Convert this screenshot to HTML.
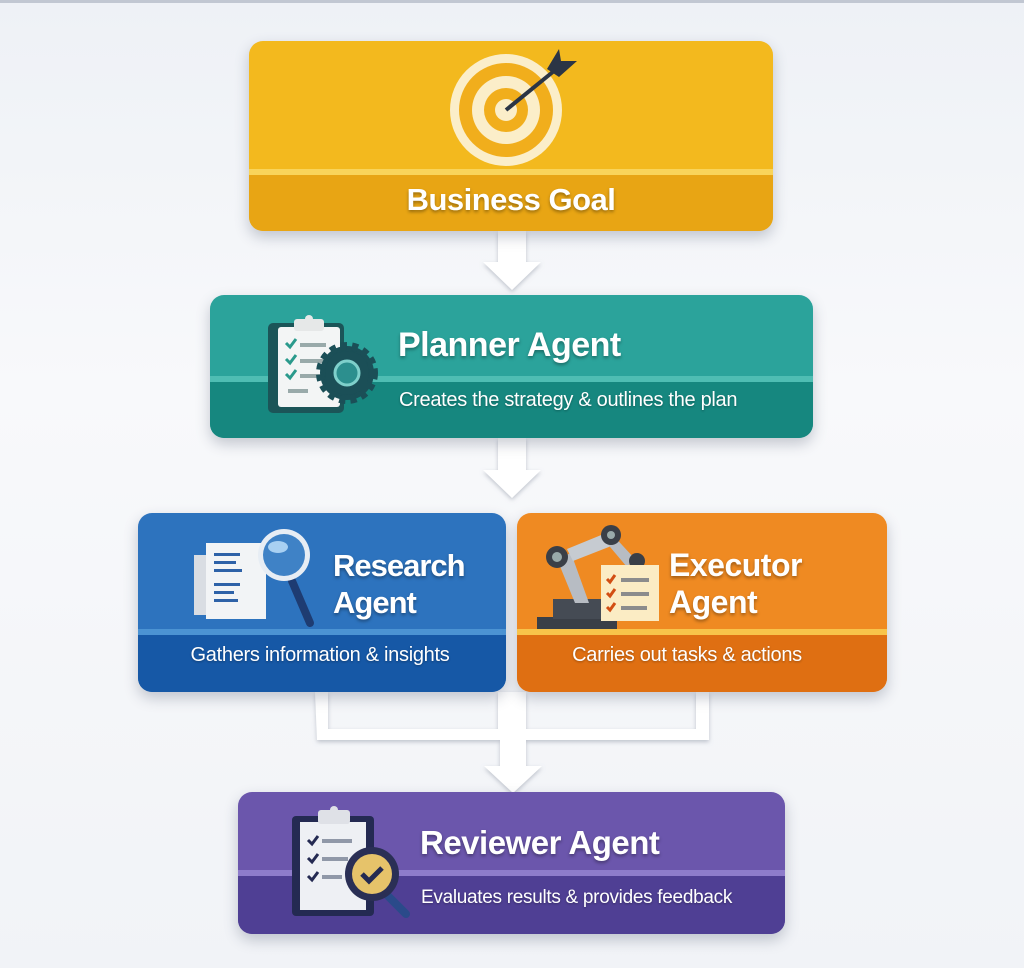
<!DOCTYPE html>
<html><head><meta charset="utf-8"><style>
*{margin:0;padding:0;box-sizing:border-box}
body{width:1024px;height:968px;background:linear-gradient(#eef1f6,#f8f9fb 40%,#f1f3f7);position:relative;overflow:hidden;font-family:"Liberation Sans",sans-serif}
.box{position:absolute;border-radius:14px;overflow:hidden;box-shadow:0 6px 14px rgba(40,50,80,.25)}
.low{position:absolute;left:0;right:0;bottom:0}
.stripe{position:absolute;left:0;right:0;height:6px}
.t{position:absolute;color:#fff;font-weight:bold;text-shadow:0 2px 3px rgba(0,0,0,.35);white-space:nowrap;letter-spacing:-0.5px}
.s{position:absolute;color:#fff;font-size:20px;white-space:nowrap;text-shadow:0 1px 2px rgba(0,0,0,.3);letter-spacing:-0.3px}
.ar{position:absolute}
</style></head><body>
<div style="position:absolute;left:0;right:0;top:0;height:3px;background:#6c7890;opacity:.35"></div>

<svg class="ar" style="left:0;top:0" width="1024" height="968">
<defs><filter id="f"><feDropShadow dx="0" dy="2" stdDeviation="2" flood-color="#8890a0" flood-opacity=".5"/></filter></defs>
<g fill="#fff" filter="url(#f)">
<polygon points="498,231 526,231 526,262 541,262 512,290 483,262 498,262"/>
<polygon points="498,438 526,438 526,470 541,470 512,498 483,470 498,470"/>
<path d="M315,692 h13 v37 h170 v-37 h28 v37 h170 v-37 h13 v48 h-183 v26 h16 l-29,27 l-29,-27 h16 v-26 h-183z"/>
</g></svg>

<div class="box" style="left:249px;top:41px;width:524px;height:190px;background:#f3b91e">
 <div class="low" style="top:131px;background:#e8a514"></div>
 <div class="stripe" style="top:128px;background:#f9d45a"></div>
 <svg style="position:absolute;left:200px;top:8px" width="130" height="120">
  <circle cx="57" cy="61" r="56" fill="#fbeec9"/><circle cx="57" cy="61" r="47" fill="#f1ae1c"/>
  <circle cx="57" cy="61" r="34" fill="#fbeec9"/><circle cx="57" cy="61" r="22" fill="#f1ae1c"/>
  <circle cx="57" cy="61" r="11" fill="#fbeec9"/>
  <line x1="57" y1="61" x2="105" y2="22" stroke="#2b3545" stroke-width="4"/>
  <polygon points="98,20 110,0 112,12 128,12 110,28" fill="#2b3545"/>
 </svg>
 <div class="t" style="left:0;right:0;text-align:center;top:141px;font-size:31px">Business Goal</div>
</div>

<div class="box" style="left:210px;top:295px;width:603px;height:143px;background:#2ba39b">
 <div class="low" style="top:86px;background:#16877f"></div>
 <div class="stripe" style="top:81px;background:#4fbdb3"></div>
 <svg style="position:absolute;left:56px;top:18px" width="115" height="105">
  <rect x="2" y="10" width="76" height="90" rx="5" fill="#1b5558"/>
  <rect x="12" y="14" width="62" height="80" rx="3" fill="#f3f5f5"/>
  <rect x="28" y="6" width="30" height="12" rx="3" fill="#e6e8e8"/><circle cx="43" cy="6" r="4" fill="#e6e8e8"/>
  <g stroke="#2a9a8c" stroke-width="3" fill="none"><path d="M20,30 l4,4 l6,-8"/><path d="M20,46 l4,4 l6,-8"/><path d="M20,61 l4,4 l6,-8"/></g>
  <g fill="#9aa"><rect x="34" y="30" width="26" height="4"/><rect x="34" y="46" width="24" height="4"/><rect x="34" y="61" width="22" height="4"/><rect x="22" y="76" width="20" height="4"/></g>
  <circle cx="81" cy="60" r="27" fill="#1b4f57" stroke="#1b4f57" stroke-width="8" stroke-dasharray="6 5"/>
  <circle cx="81" cy="60" r="22" fill="#1b4f57"/><circle cx="81" cy="60" r="12" fill="#2c8f8e" stroke="#7fd0cb" stroke-width="3"/>
 </svg>
 <div class="t" style="left:188px;top:31px;font-size:34px">Planner Agent</div>
 <div class="s" style="left:189px;top:94px;font-size:20px">Creates the strategy &amp; outlines the plan</div>
</div>

<div class="box" style="left:138px;top:513px;width:368px;height:179px;background:#2d73be">
 <div class="low" style="top:122px;background:#1658a6"></div>
 <div class="stripe" style="top:116px;background:#4b93d3"></div>
 <svg style="position:absolute;left:54px;top:10px" width="130" height="110">
  <rect x="2" y="32" width="52" height="60" fill="#d9dde3"/>
  <rect x="14" y="20" width="60" height="76" fill="#f2f4f6"/>
  <g fill="#2e62a8"><rect x="22" y="30" width="26" height="3"/><rect x="22" y="38" width="22" height="3"/><rect x="22" y="46" width="28" height="3"/><rect x="22" y="60" width="26" height="3"/><rect x="22" y="68" width="20" height="3"/><rect x="22" y="76" width="24" height="3"/></g>
  <line x1="100" y1="58" x2="118" y2="100" stroke="#1e3c72" stroke-width="8" stroke-linecap="round"/>
  <circle cx="92" cy="32" r="26" fill="#e7edf4"/><circle cx="92" cy="32" r="21" fill="#3f82c6"/>
  <ellipse cx="86" cy="24" rx="10" ry="6" fill="#a8d0f2"/>
 </svg>
 <div class="t" style="left:195px;top:34px;font-size:31px;line-height:37px;letter-spacing:-1px">Research<br>Agent</div>
 <div class="s" style="left:0;right:0;text-align:center;top:131px;padding-right:4px">Gathers information &amp; insights</div>
</div>

<div class="box" style="left:517px;top:513px;width:370px;height:179px;background:#ef8a22">
 <div class="low" style="top:122px;background:#df6f12"></div>
 <div class="stripe" style="top:116px;background:#f8c44a"></div>
 <svg style="position:absolute;left:18px;top:10px" width="140" height="108">
  <rect x="2" y="94" width="80" height="12" fill="#3a3f47"/><rect x="18" y="76" width="52" height="20" fill="#454b54"/>
  <path d="M22,36 L40,80 L54,80 L36,30z" fill="#b7bcc3"/>
  <path d="M32,26 L76,8 L84,20 L38,38z" fill="#c6cbd1"/>
  <path d="M76,10 L100,36 L92,44 L70,18z" fill="#b7bcc3"/>
  <circle cx="22" cy="34" r="11" fill="#3a3f47"/><circle cx="22" cy="34" r="5" fill="#9aa"/>
  <circle cx="76" cy="12" r="10" fill="#3a3f47"/><circle cx="76" cy="12" r="4" fill="#9aa"/>
  <circle cx="102" cy="38" r="8" fill="#3a3f47"/>
  <rect x="66" y="42" width="58" height="56" fill="#fbecc4"/>
  <g stroke="#d24e13" stroke-width="3" fill="none"><path d="M72,56 l3,3 l5,-7"/><path d="M72,70 l3,3 l5,-7"/><path d="M72,84 l3,3 l5,-7"/></g>
  <g fill="#8c8c8c"><rect x="86" y="55" width="28" height="4"/><rect x="86" y="69" width="28" height="4"/><rect x="86" y="83" width="26" height="4"/></g>
 </svg>
 <div class="t" style="left:152px;top:34px;font-size:32px;line-height:37px">Executor<br>Agent</div>
 <div class="s" style="left:0;right:0;text-align:center;top:131px;padding-right:30px">Carries out tasks &amp; actions</div>
</div>

<div class="box" style="left:238px;top:792px;width:547px;height:142px;background:#6b56ac">
 <div class="low" style="top:84px;background:#4f3f94"></div>
 <div class="stripe" style="top:78px;background:#8e7ccb"></div>
 <svg style="position:absolute;left:52px;top:12px" width="125" height="120">
  <rect x="2" y="12" width="82" height="100" rx="4" fill="#242a52"/>
  <rect x="10" y="18" width="66" height="88" fill="#eef0f4"/>
  <rect x="28" y="6" width="32" height="14" rx="3" fill="#dfe1e7"/><circle cx="44" cy="6" r="4" fill="#dfe1e7"/>
  <g stroke="#242a52" stroke-width="3" fill="none"><path d="M18,36 l4,4 l6,-8"/><path d="M18,54 l4,4 l6,-8"/><path d="M18,72 l4,4 l6,-8"/></g>
  <g fill="#9098a8"><rect x="32" y="35" width="30" height="4"/><rect x="32" y="53" width="26" height="4"/><rect x="32" y="71" width="20" height="4"/></g>
  <line x1="96" y1="90" x2="116" y2="110" stroke="#2a4a8a" stroke-width="8" stroke-linecap="round"/>
  <circle cx="82" cy="70" r="27" fill="#2a2f55"/><circle cx="82" cy="70" r="20" fill="#e6c36a"/>
  <path d="M72,70 l7,7 l13,-13" stroke="#242a52" stroke-width="5" fill="none"/>
 </svg>
 <div class="t" style="left:182px;top:32px;font-size:33px">Reviewer Agent</div>
 <div class="s" style="left:183px;top:95px;font-size:19px">Evaluates results &amp; provides feedback</div>
</div>
</body></html>
